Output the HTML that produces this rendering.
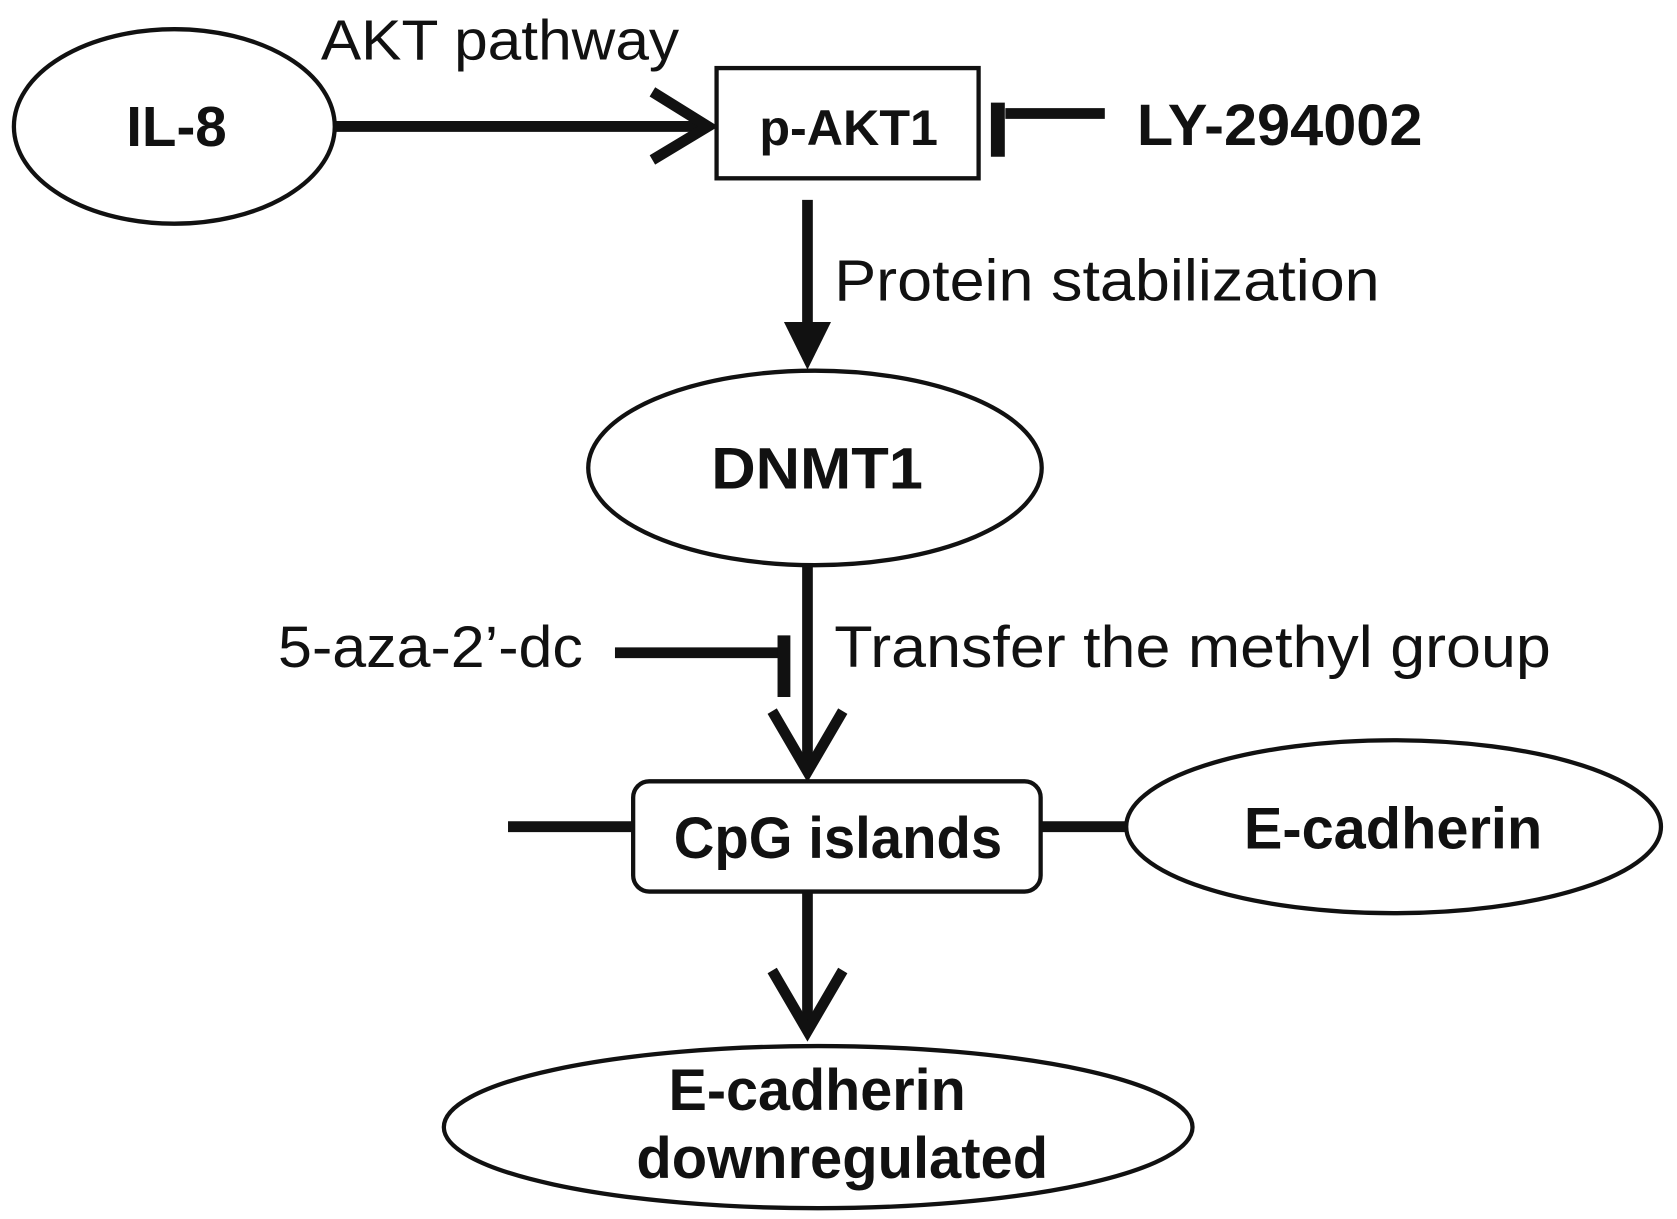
<!DOCTYPE html>
<html><head><meta charset="utf-8"><style>
html,body{margin:0;padding:0;background:#fff;}
svg{display:block;}
text{font-family:"Liberation Sans",sans-serif;fill:#111;}
.b{font-weight:bold;}
</style></head><body>
<svg width="1677" height="1219" viewBox="0 0 1568 1128" preserveAspectRatio="none" xmlns="http://www.w3.org/2000/svg">
<g fill="none" stroke="#111" stroke-width="4">
<ellipse cx="163" cy="117" rx="150" ry="90"/>
<rect x="670" y="63" width="245" height="102"/>
<ellipse cx="762" cy="433" rx="212" ry="90"/>
<rect x="592" y="723" width="381" height="102" rx="15"/>
<ellipse cx="1303" cy="765" rx="250" ry="80"/>
<ellipse cx="765" cy="1043" rx="350" ry="75"/>
</g>
<g stroke="#111" stroke-width="10" fill="none">
<line x1="313" y1="117" x2="662" y2="117"/>
<polyline points="610,85 662,117 610,148"/>
<line x1="940" y1="105" x2="1033" y2="105"/>
<line x1="933" y1="95" x2="933" y2="145" stroke-width="13"/>
<line x1="755" y1="185" x2="755" y2="300"/>
<line x1="755" y1="523" x2="755" y2="712"/>
<line x1="575" y1="604" x2="728" y2="604"/>
<line x1="733" y1="588" x2="733" y2="645" stroke-width="12"/>
<polyline points="722,658 755,714 788,658"/>
<line x1="475" y1="765" x2="592" y2="765"/>
<line x1="973" y1="765" x2="1052" y2="765"/>
<line x1="755" y1="825" x2="755" y2="952"/>
<polyline points="722,898 755,954 788,898"/>
</g>
<polygon points="733,298 777,298 755,342" fill="#111"/>
<g lengthAdjust="spacingAndGlyphs">
<text x="300" y="55" font-size="52" textLength="335" lengthAdjust="spacingAndGlyphs">AKT pathway</text>
<text class="b" x="118" y="135" font-size="52" textLength="94" lengthAdjust="spacingAndGlyphs">IL-8</text>
<text class="b" x="710" y="134" font-size="46" textLength="167" lengthAdjust="spacingAndGlyphs">p-AKT1</text>
<text class="b" x="1063" y="134" font-size="54" textLength="267" lengthAdjust="spacingAndGlyphs">LY-294002</text>
<text x="780" y="278" font-size="54" textLength="510" lengthAdjust="spacingAndGlyphs">Protein stabilization</text>
<text class="b" x="665" y="452" font-size="54" textLength="198" lengthAdjust="spacingAndGlyphs">DNMT1</text>
<text x="260" y="617" font-size="54" textLength="285" lengthAdjust="spacingAndGlyphs">5-aza-2’-dc</text>
<text x="780" y="617" font-size="54" textLength="670" lengthAdjust="spacingAndGlyphs">Transfer the methyl group</text>
<text class="b" x="630" y="794" font-size="54" textLength="307" lengthAdjust="spacingAndGlyphs">CpG islands</text>
<text class="b" x="1163" y="785" font-size="54" textLength="279" lengthAdjust="spacingAndGlyphs">E-cadherin</text>
<text class="b" x="625" y="1027" font-size="54" textLength="278" lengthAdjust="spacingAndGlyphs">E-cadherin</text>
<text class="b" x="595" y="1090" font-size="54" textLength="385" lengthAdjust="spacingAndGlyphs">downregulated</text>
</g>
</svg>
</body></html>
